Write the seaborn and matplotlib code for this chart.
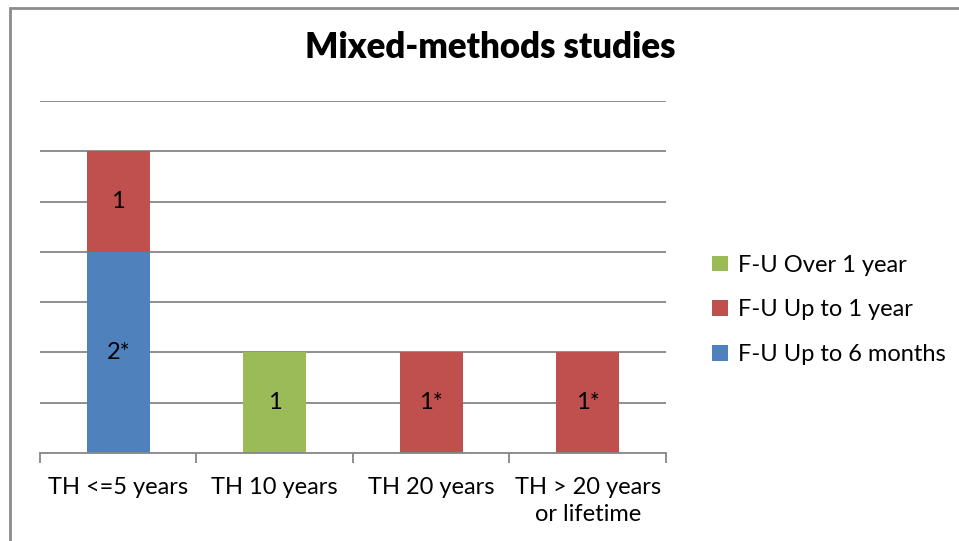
import matplotlib
matplotlib.use("Agg")
import matplotlib.pyplot as plt
import matplotlib.patches as mpatches
import numpy as np
import pandas as pd
import seaborn as sns

# chart data
categories = ["TH <=5 years", "TH 10 years", "TH 20 years", "TH > 20 years\nor lifetime"]
up_to_6_months = [2, 0, 0, 0]
up_to_1_year = [1, 0, 1, 1]
over_1_year = [0, 1, 0, 0]
labels_6_months = ["2*", "", "", ""]
labels_1_year = ["1", "", "1*", "1*"]
labels_over_1_year = ["", "1", "", ""]
series_names = ["F-U Up to 6 months", "F-U Up to 1 year", "F-U Over 1 year"]
colors = ["#4F81BD", "#C0504D", "#9BBB59"]

sns.set_theme(style="white")
plt.rcParams["font.family"] = ["Lato", "DejaVu Sans"]
plt.rcParams["text.color"] = "black"
plt.rcParams["xtick.color"] = "black"

fig = plt.figure(figsize=(9.59, 5.41), dpi=100)
ax = fig.add_axes([40 / 959, 1 - 453 / 541, 626 / 959, 352 / 541])

df = pd.DataFrame({
    "category": categories,
    "six": up_to_6_months,
    "one": up_to_1_year,
    "over": over_1_year,
})
base_one = np.array(up_to_6_months)
base_over = base_one + np.array(up_to_1_year)

layers = [
    ("six", 0, labels_6_months),
    ("one", base_one, labels_1_year),
    ("over", base_over, labels_over_1_year),
]
for (col, bottom, labs), color, name in zip(layers, colors, series_names):
    sns.barplot(data=df, x="category", y=col, bottom=bottom, color=color,
                width=0.4, ax=ax, label=name, linewidth=0, saturation=1)
    ax.bar_label(ax.containers[-1], labels=labs, label_type="center",
                 fontsize=17, color="black")

ax.set_xlim(-0.5, 3.5)
ax.set_ylim(0, 3.5)
ax.set_yticks(np.arange(0.5, 3.51, 0.5))
ax.yaxis.grid(True, color="#868686", linewidth=1.3)
ax.set_axisbelow(True)
ax.tick_params(axis="y", left=False, labelleft=False)
ax.set_xticks(np.arange(-0.5, 3.51, 1.0), minor=False)
ax.set_xticklabels([])
ax.set_xticks(range(len(categories)), minor=True)
ax.set_xticklabels(categories, minor=True, fontsize=17, linespacing=1.4)
ax.tick_params(axis="x", which="major", bottom=True, length=7, width=1.3,
               color="#868686", direction="out")
ax.tick_params(axis="x", which="minor", bottom=False, pad=13)
ax.set_xlabel("")
ax.set_ylabel("")
for side in ["left", "right", "top"]:
    ax.spines[side].set_visible(False)
ax.spines["bottom"].set_color("#868686")
ax.spines["bottom"].set_linewidth(1.3)

handles, leg_labels = ax.get_legend_handles_labels()
ax.legend(handles[::-1], leg_labels[::-1], loc="center left",
          bbox_to_anchor=(691 / 959, 1 - 310 / 541), bbox_transform=fig.transFigure,
          frameon=False, fontsize=17, handlelength=0.65, handleheight=0.65,
          handletextpad=0.45, labelspacing=1.0)

fig.suptitle("Mixed-methods studies", x=490 / 959, y=1 - 47 / 541, va="center",
             fontsize=25, fontweight="heavy")

# outer chart frame
fig.add_artist(mpatches.Rectangle((9.5 / 959, -0.1), 1.1, 1.1 - 8 / 541,
                                  transform=fig.transFigure, fill=False,
                                  edgecolor="#8C8C8C", linewidth=2))

fig.savefig("out.png", dpi=100)
